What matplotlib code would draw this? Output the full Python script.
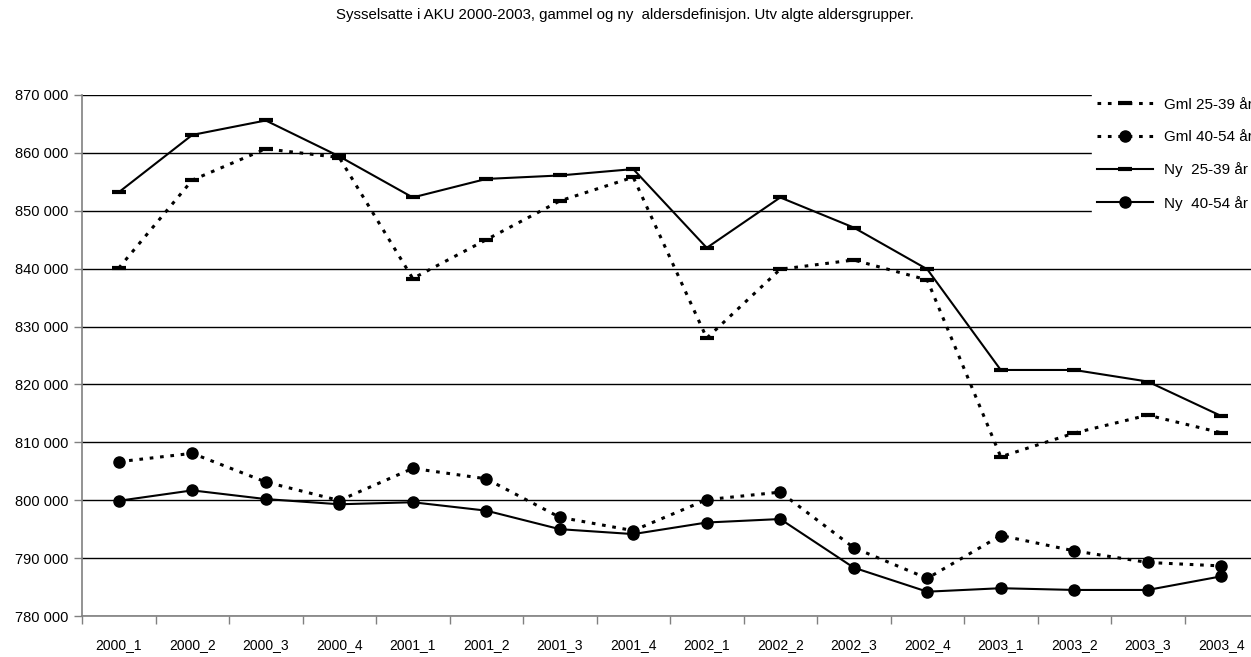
import matplotlib
matplotlib.use("Agg")
import matplotlib.pyplot as plt
from matplotlib.ticker import FuncFormatter, FixedLocator

plt.rcParams['font.family'] = ['Liberation Sans', 'DejaVu Sans']

# Data
kvartaler = ["2000_1", "2000_2", "2000_3", "2000_4", "2001_1", "2001_2", "2001_3", "2001_4",
             "2002_1", "2002_2", "2002_3", "2002_4", "2003_1", "2003_2", "2003_3", "2003_4"]

gml_25_39 = [840100, 855300, 860700, 859200, 838300, 845000, 851700, 855800,
             828000, 839900, 841500, 838050, 807500, 811600, 814700, 811650]
gml_40_54 = [806650, 808100, 803150, 799950, 805500, 803700, 797050, 794750,
             800100, 801400, 791800, 786500, 793900, 791250, 789250, 788650]
ny_25_39 = [853200, 863100, 865600, 859400, 852300, 855500, 856100, 857200,
            843600, 852300, 847100, 839900, 822500, 822500, 820500, 814550]
ny_40_54 = [799900, 801700, 800200, 799300, 799650, 798200, 795000, 794150,
            796150, 796750, 788350, 784200, 784800, 784500, 784500, 786850]

tittel = "Sysselsatte i AKU 2000-2003, gammel og ny  aldersdefinisjon. Utv algte aldersgrupper."

W, H = 1251, 657
fig = plt.figure(figsize=(W / 100, H / 100), dpi=100)
ax = fig.add_axes([82 / W, (H - 616) / H, (1258 - 82) / W, (616 - 95) / H])

x = list(range(len(kvartaler)))
dots = (0, (1.2, 2.2))

ax.plot(x, gml_25_39, color="black", linestyle=dots, linewidth=2.2,
        marker="_", markersize=10, markeredgewidth=3, label="Gml 25-39 år")
ax.plot(x, gml_40_54, color="black", linestyle=dots, linewidth=2.2,
        marker="o", markersize=8, label="Gml 40-54 år")
ax.plot(x, ny_25_39, color="black", linestyle="-", linewidth=1.5,
        marker="_", markersize=10, markeredgewidth=3, label="Ny  25-39 år")
ax.plot(x, ny_40_54, color="black", linestyle="-", linewidth=1.5,
        marker="o", markersize=8, label="Ny  40-54 år")

ax.set_xlim(-0.5, len(kvartaler) - 0.5)
ax.set_ylim(780000, 870000)
ax.yaxis.set_major_locator(FixedLocator(range(780000, 870001, 10000)))
ax.yaxis.set_major_formatter(FuncFormatter(lambda v, p: f"{int(v):,}".replace(",", " ")))
ax.grid(axis="y", color="black", linewidth=1)
ax.set_axisbelow(True)

ax.set_xticks(x)
ax.set_xticklabels(kvartaler)
ax.set_xticks([i - 0.5 for i in range(len(kvartaler) + 1)], minor=True)
ax.tick_params(axis="x", which="major", length=0, pad=16, labelsize=10)
ax.tick_params(axis="x", which="minor", length=6, width=1, color="#808080")
ax.tick_params(axis="y", length=6, width=1, color="#808080", labelsize=10.5, pad=4)

for side in ["top", "right"]:
    ax.spines[side].set_visible(False)
for side in ["left", "bottom"]:
    ax.spines[side].set_color("#808080")
    ax.spines[side].set_linewidth(1.2)

fig.text(625 / W, 1 - 15 / H, tittel, ha="center", va="center", fontsize=10.8)

leg = fig.legend(loc="upper left", bbox_to_anchor=(1092 / W, 1 - 93 / H), frameon=True,
                 fontsize=11, handlelength=3.7, labelspacing=1.2, handletextpad=0.7,
                 borderpad=0.3, borderaxespad=0)
leg.get_frame().set_facecolor("white")
leg.get_frame().set_edgecolor("white")
leg.get_frame().set_alpha(1)
leg.get_frame().set_boxstyle("square", pad=0)
leg.set_zorder(10)

fig.savefig("out.png", dpi=100)
